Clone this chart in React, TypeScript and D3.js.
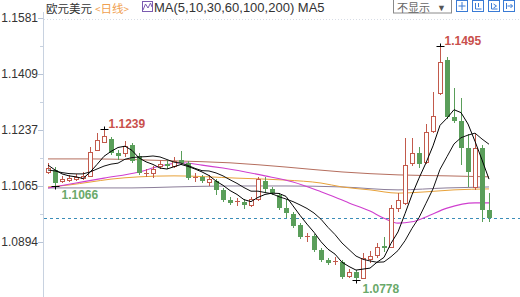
import React from 'react';
import * as d3 from 'd3';

const W = 520;
const H = 297;

// OHLC per trading day (EUR/USD daily)
const opens = [1.1108,1.1114,1.1080,1.1083,1.1086,1.1089,1.1096,1.1175,1.1200,1.1209,1.1166,1.1166,1.1191,1.1157,1.1102,1.1105,1.1126,1.1132,1.1126,1.1145,1.1135,1.1089,1.1093,1.1077,1.1080,1.1053,1.1022,1.1016,1.1016,1.1007,1.1025,1.1080,1.1056,1.1037,1.0997,1.0979,1.0945,1.0909,1.0912,1.0869,1.0838,1.0832,1.0832,1.0789,1.0801,1.0783,1.0841,1.0853,1.0881,1.0878,1.0997,1.1013,1.1135,1.1166,1.1138,1.1234,1.1350,1.1451,1.1277,1.1264,1.1181,1.1062,1.1181,1.0991];
const highs = [1.1135,1.1123,1.1096,1.1099,1.1102,1.1108,1.1185,1.1227,1.1239,1.1215,1.1175,1.1203,1.1197,1.1166,1.1117,1.1126,1.1145,1.1145,1.1154,1.1172,1.1142,1.1105,1.1099,1.1099,1.1086,1.1059,1.1031,1.1028,1.1025,1.1031,1.1093,1.1093,1.1062,1.1043,1.1025,1.0985,1.0951,1.0921,1.0918,1.0875,1.0844,1.0847,1.0838,1.0810,1.0807,1.0859,1.0866,1.0890,1.0909,1.1007,1.1043,1.1212,1.1212,1.1185,1.1255,1.1353,1.1495,1.1460,1.1366,1.1335,1.1224,1.1224,1.1191,1.1043];
const lows = [1.1102,1.1066,1.1074,1.1077,1.1080,1.1083,1.1093,1.1172,1.1197,1.1160,1.1145,1.1154,1.1135,1.1099,1.1093,1.1089,1.1117,1.1117,1.1120,1.1129,1.1083,1.1077,1.1074,1.1065,1.1037,1.1016,1.1007,1.1004,1.0994,1.1000,1.1019,1.1043,1.1037,1.0991,1.0967,1.0936,1.0902,1.0893,1.0862,1.0832,1.0823,1.0823,1.0780,1.0783,1.0778,1.0780,1.0829,1.0844,1.0862,1.0875,1.0985,1.1007,1.1126,1.1120,1.1132,1.1227,1.1344,1.1270,1.1258,1.1129,1.1062,1.1053,1.0955,1.0955];
const closes = [1.1120,1.1074,1.1086,1.1089,1.1093,1.1096,1.1169,1.1206,1.1218,1.1166,1.1157,1.1188,1.1142,1.1105,1.1105,1.1117,1.1132,1.1126,1.1142,1.1135,1.1089,1.1093,1.1080,1.1086,1.1053,1.1022,1.1013,1.1019,1.1007,1.1025,1.1086,1.1056,1.1043,1.0997,1.0982,1.0942,1.0909,1.0912,1.0869,1.0838,1.0829,1.0835,1.0786,1.0801,1.0783,1.0844,1.0850,1.0878,1.0875,1.0997,1.1022,1.1129,1.1166,1.1132,1.1231,1.1280,1.1445,1.1277,1.1264,1.1181,1.1108,1.1181,1.0991,1.0967];

// moving averages
const ma5 = [1.1129,1.1114,1.1102,1.1096,1.1093,1.1088,1.1107,1.1131,1.1156,1.1171,1.1183,1.1187,1.1174,1.1151,1.1139,1.1131,1.1120,1.1117,1.1124,1.1131,1.1125,1.1117,1.1108,1.1097,1.1080,1.1067,1.1051,1.1039,1.1023,1.1017,1.1030,1.1039,1.1043,1.1042,1.1033,1.1004,1.0975,1.0948,1.0923,1.0894,1.0871,1.0856,1.0831,1.0818,1.0807,1.0810,1.0813,1.0831,1.0846,1.0889,1.0924,1.0980,1.1038,1.1089,1.1136,1.1188,1.1251,1.1273,1.1299,1.1290,1.1255,1.1202,1.1145,1.1086];
const ma10 = [1.1114,1.1111,1.1106,1.1103,1.1102,1.1102,1.1108,1.1117,1.1126,1.1132,1.1135,1.1147,1.1152,1.1154,1.1155,1.1157,1.1154,1.1146,1.1138,1.1135,1.1128,1.1119,1.1112,1.1111,1.1105,1.1096,1.1084,1.1073,1.1060,1.1049,1.1049,1.1045,1.1041,1.1032,1.1025,1.1017,1.1007,1.0996,1.0982,1.0963,1.0938,1.0916,1.0890,1.0870,1.0850,1.0840,1.0835,1.0831,1.0832,1.0848,1.0867,1.0897,1.0935,1.0968,1.1012,1.1056,1.1116,1.1155,1.1194,1.1213,1.1221,1.1227,1.1209,1.1193];
const ma30Days = [0,4,8,13,16,19,22,25,31,35,39,43,46,48,50,52,54,57,61,63];
const ma30 = [1.1059,1.1074,1.1089,1.1108,1.1126,1.1136,1.1129,1.1120,1.1096,1.1077,1.1047,1.1013,1.0988,1.0966,1.0951,1.0955,1.0970,1.0997,1.1013,1.1013];
const ma60Days = [0,3,6,9,13,18,27,34,39,42,46,50,54,58,63];
const ma60 = [1.1062,1.1068,1.1077,1.1086,1.1093,1.1096,1.1089,1.1083,1.1074,1.1062,1.1053,1.1043,1.1047,1.1053,1.1056];
const ma100Days = [0,6,12,18,26,34,42,50,57,63];
const ma100 = [1.1148,1.1148,1.1146,1.1142,1.1136,1.1123,1.1108,1.1099,1.1096,1.1093];
const ma200Days = [0,6,12,18,26,34,42,50,57,63];
const ma200 = [1.1059,1.1059,1.1059,1.1062,1.1065,1.1065,1.1062,1.1053,1.1059,1.1062];

const yTicks = [1.0894, 1.1065, 1.1237, 1.1409, 1.1581];
const yTickLabels = ['1.0894', '1.1065', '1.1237', '1.1409', '1.1581'];
const lastPrice = 1.0967;

const markDays = [8, 56, 1, 44];
const markValues = [1.1239, 1.1495, 1.1066, 1.0778];
const markLabels = ['1.1239', '1.1495', '1.1066', '1.0778'];
const markKinds = ['high', 'high', 'low', 'low'];

const RED = '#c25a4c';
const GREEN = '#5a9e5a';

export default function App() {
  const n = closes.length;
  const x = d3.scaleBand<number>().domain(d3.range(n)).range([44.5, 492.5]).paddingInner(0.3).paddingOuter(0.15);
  const y = d3.scaleLinear().domain([1.0722, 1.15808]).range([297.8, 17.8]);
  const cx = (i: number) => Math.round((x(i) as number) + x.bandwidth() / 2);

  const line = d3.line<number>().x((_, i) => cx(i)).y((v) => y(v));
  const sparse = (days: number[], vals: number[]) =>
    d3.line<number>().x((_, k) => cx(days[k])).y((v) => y(v)).curve(d3.curveMonotoneX)(vals) || '';

  const cjk = '"Noto Sans CJK SC", "Liberation Sans", sans-serif';
  const latin = '"Liberation Sans", Arial, sans-serif';

  return (
    <svg width={W} height={H} style={{ position: 'absolute', left: 0, top: 0, background: '#fff' }}>
      {/* header */}
      <text x={46} y={12.5} fontSize={11.5} fontFamily={cjk} fill="#333">欧元美元</text>
      <text x={95} y={12.5} fontSize={11.5} fontFamily={cjk} fill="#f0a050">
        <tspan fontSize={10}>&lt;</tspan>日线<tspan fontSize={10}>&gt;</tspan>
      </text>
      <rect x={142.5} y={1.5} width={10} height={10} fill="none" stroke="#7b5bb0" />
      <polyline points="143,10 145.5,4 148,8 150.5,3 152,7" fill="none" stroke="#7b5bb0" />
      <text x={154} y={12} fontSize={13} fontFamily={latin} fill="#333">MA(5,10,30,60,100,200) MA5</text>

      <rect x={393.5} y={-0.5} width={58} height={13.5} fill="#fff" stroke="#8a8a8a" />
      <text x={397} y={12} fontSize={11} fontFamily={cjk} fill="#666">不显示</text>
      <text x={437} y={10.5} fontSize={9} fontFamily={latin} fill="#555">▼</text>
      {[456.5, 472.5, 488.5, 503.5].map((bx, k) => (
        <g key={k} stroke="#3a7bd5" fill="none">
          <rect x={bx} y={0.5} width={11} height={11} />
          {k === 0 && <path d={`M${bx + 5.5},2 V10 M${bx + 2},6 H${bx + 9}`} />}
          {k === 1 && <path d={`M${bx + 3},3 V9 H${bx + 9} M${bx + 6},3 V7`} />}
          {k === 2 && <path d={`M${bx + 3},3 V9 H${bx + 9} M${bx + 5},4 L${bx + 8},6 L${bx + 5},8`} />}
          {k === 3 && <path d={`M${bx + 3},3 V9 M${bx + 4},6 H${bx + 9} M${bx + 7},4 L${bx + 9},6 L${bx + 7},8`} />}
        </g>
      ))}
      <line x1={44} x2={520} y1={19.5} y2={19.5} stroke="#d8dde6" strokeDasharray="1,2" />

      {/* y axis */}
      <line x1={43.5} x2={43.5} y1={12} y2={297} stroke="#c8d2e0" />
      {yTicks.map((t, k) => (
        <g key={t}>
          <line x1={38} x2={43} y1={Math.round(y(t)) + 0.5} y2={Math.round(y(t)) + 0.5} stroke="#b8c4d6" />
          <text x={38} y={y(t)} dy="0.35em" textAnchor="end" fontSize={12} fontFamily={latin} fill="#333">{yTickLabels[k]}</text>
        </g>
      ))}
      {yTicks.map((t) => (
        <line key={'m' + t} x1={40} x2={43} y1={Math.round(y(t) - 28) + 0.5} y2={Math.round(y(t) - 28) + 0.5} stroke="#c8d2e0" />
      ))}

      {/* last price dashed line */}
      <line x1={44} x2={520} y1={Math.round(y(lastPrice)) + 0.5} y2={Math.round(y(lastPrice)) + 0.5} stroke="#3b8db8" strokeDasharray="3,3" />

      {/* slow moving averages */}
      <path d={sparse(ma100Days, ma100)} fill="none" stroke="#b56e5e" strokeWidth={1} />
      <path d={sparse(ma200Days, ma200)} fill="none" stroke="#8b7d99" strokeWidth={1} />
      <path d={sparse(ma60Days, ma60)} fill="none" stroke="#e8a23a" strokeWidth={1} />
      <path d={sparse(ma30Days, ma30)} fill="none" stroke="#cf3fcf" strokeWidth={1.1} />

      {/* candles */}
      {closes.map((c, i) => {
        const o = opens[i];
        const up = c >= o && i !== 48;
        const xc = cx(i);
        const yh = Math.round(y(highs[i]));
        const yl = Math.round(y(lows[i]));
        const yTop = Math.round(y(Math.max(o, c)));
        const yBot = Math.round(y(Math.min(o, c)));
        if (up) {
          const hgt = Math.max(yBot - yTop, 1);
          return (
            <g key={i} stroke={RED} fill="none">
              <line x1={xc + 0.5} x2={xc + 0.5} y1={yh} y2={yTop} />
              <line x1={xc + 0.5} x2={xc + 0.5} y1={yTop + hgt} y2={yl} />
              {hgt <= 1 ? (
                <line x1={xc - 2} x2={xc + 3} y1={yTop + 0.5} y2={yTop + 0.5} />
              ) : (
                <rect x={xc - 1.5} y={yTop + 0.5} width={4} height={hgt} fill="#fff" />
              )}
            </g>
          );
        }
        return (
          <g key={i}>
            <line x1={xc + 0.5} x2={xc + 0.5} y1={yh} y2={yl} stroke={GREEN} />
            <rect x={xc - 2} y={yTop} width={5} height={Math.max(yBot - yTop, 1)} fill={GREEN} />
          </g>
        );
      })}

      {/* fast moving averages */}
      <path d={line(ma10) || ''} fill="none" stroke="#111" strokeWidth={1} />
      <path d={line(ma5) || ''} fill="none" stroke="#000" strokeWidth={1} />

      {/* high / low marks */}
      {markDays.map((d, k) => {
        const xc = cx(d) + 0.5;
        const yy = Math.round(y(markValues[k])) + 0.5;
        const isHigh = markKinds[k] === 'high';
        return (
          <g key={k}>
            <line x1={xc - 4} x2={xc + 4} y1={yy} y2={yy} stroke="#000" />
            <line x1={xc} x2={xc} y1={isHigh ? yy - 3 : yy} y2={isHigh ? yy : yy + 3} stroke="#000" />
            <text
              x={xc + (isHigh ? 4 : 6)}
              y={isHigh ? yy - 2 : yy + 12.5}
              fontSize={12}
              fontWeight="bold"
              fontFamily={latin}
              fill={isHigh ? '#c9504c' : '#6aa96a'}
            >
              {markLabels[k]}
            </text>
          </g>
        );
      })}
    </svg>
  );
}
